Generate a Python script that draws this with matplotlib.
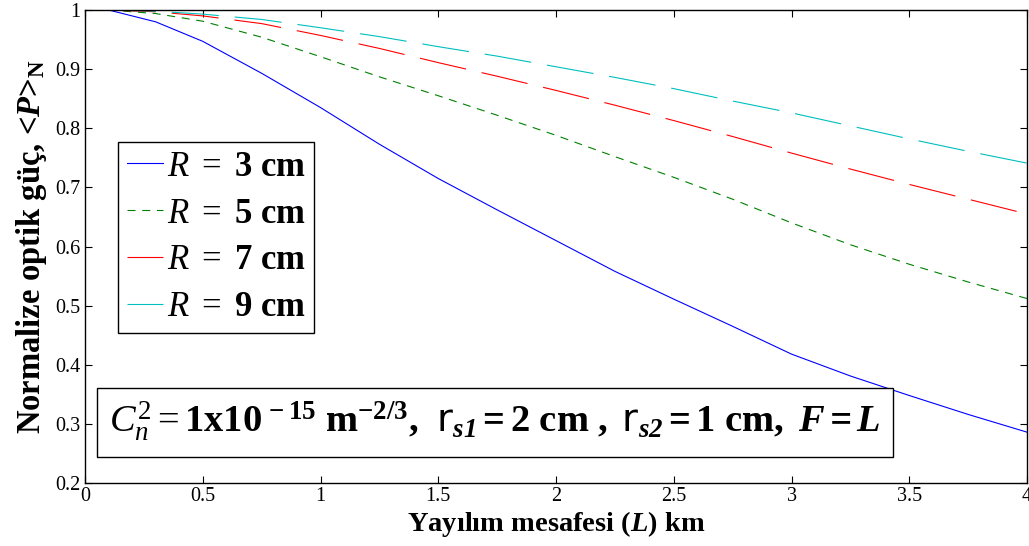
import matplotlib
matplotlib.use('Agg')
import matplotlib.pyplot as plt

# Distance (km) and normalized power for each receiver aperture
L_km = [0.1, 0.3, 0.5, 0.75, 1.0, 1.25, 1.5, 1.75, 2.0, 2.25, 2.5, 2.75, 3.0, 3.25, 3.5, 3.75, 4.0]
P_R3 = [1.000, 0.980, 0.947, 0.893, 0.835, 0.773, 0.715, 0.662, 0.610, 0.558, 0.511, 0.465, 0.418, 0.381, 0.348, 0.316, 0.286]
P_R5 = [1.000, 0.994, 0.981, 0.954, 0.921, 0.887, 0.855, 0.822, 0.788, 0.752, 0.717, 0.680, 0.640, 0.603, 0.570, 0.540, 0.512]
P_R7 = [1.000, 0.997, 0.990, 0.977, 0.957, 0.935, 0.911, 0.888, 0.864, 0.839, 0.813, 0.786, 0.758, 0.731, 0.705, 0.680, 0.655]
P_R9 = [1.000, 0.998, 0.993, 0.984, 0.970, 0.955, 0.938, 0.922, 0.904, 0.886, 0.867, 0.846, 0.826, 0.804, 0.782, 0.761, 0.741]
labels = ['3', '5', '7', '9']

plt.rcParams['font.family'] = 'Liberation Serif'
plt.rcParams['mathtext.fontset'] = 'custom'
plt.rcParams['mathtext.rm'] = 'Liberation Serif'
plt.rcParams['mathtext.it'] = 'Liberation Serif:italic'
plt.rcParams['mathtext.bf'] = 'Liberation Serif:bold'
plt.rcParams['mathtext.bfit'] = 'Liberation Serif:italic:bold'
plt.rcParams['mathtext.sf'] = 'DejaVu Sans'
plt.rcParams['lines.scale_dashes'] = False

fig = plt.figure(figsize=(10.29, 5.46), dpi=100)
ax = fig.add_axes([85 / 1029, 63 / 546, 942 / 1029, 473 / 546])

lw = 0.8
fmt = r'$R\ =\ \mathbf{%s\ cm}$'
ax.plot(L_km, P_R3, color='#0000ff', lw=lw, label=fmt % labels[0])
ax.plot(L_km, P_R5, color='#008000', lw=lw, dashes=(5.8, 4.8), label=fmt % labels[1])
ax.plot(L_km, P_R7, color='#ff0000', lw=lw, dashes=(34, 11.5), label=fmt % labels[2])
ax.plot(L_km, P_R9, color='#00bfbf', lw=lw, dashes=(34, 11.5), label=fmt % labels[3])

ax.set_xlim(0, 4)
ax.set_ylim(0.2, 1)
ax.set_xticks([0, 0.5, 1, 1.5, 2, 2.5, 3, 3.5, 4])
ax.set_xticklabels(['0', '0.5', '1', '1.5', '2', '2.5', '3', '3.5', '4'])
ax.set_yticks([0.2, 0.3, 0.4, 0.5, 0.6, 0.7, 0.8, 0.9, 1])
ax.set_yticklabels(['0.2', '0.3', '0.4', '0.5', '0.6', '0.7', '0.8', '0.9', '1'])
ax.tick_params(direction='in', top=True, right=True, length=5, width=0.8, labelsize=14.5, pad=3)
for s in ax.spines.values():
    s.set_linewidth(1.0)

ax.set_xlabel(r'Yayılım mesafesi ($\mathbfit{L}$) km', fontsize=20.5, fontweight='bold', labelpad=2)
ax.set_ylabel(r'Normalize optik güç, <$\mathbfit{P}$>$_\mathbf{N}$', fontsize=23.5, fontweight='bold', labelpad=5)

leg = ax.legend(loc='upper left', bbox_to_anchor=(0.035, 0.721), borderaxespad=0,
                fontsize=25, handlelength=1.05, handletextpad=0.1, labelspacing=0.4,
                borderpad=0.25, fancybox=False, framealpha=1, edgecolor='black')
leg.get_frame().set_linewidth(1.0)

ann = (r'$C_n^2 = \mathbf{1x10}^{\mathbf{\,-15}}\ \mathbf{m}^{\mathbf{-2/3}}\mathbf{,}\ \ '
       r'\mathsf{r}_{\mathbfit{s1}}\mathbf{=2\ cm\ ,}\ \mathsf{r}_{\mathbfit{s2}}\mathbf{=1\ cm,}\ \mathbfit{F=L}$')
ax.text(0.0255, 0.082, ann, transform=ax.transAxes, fontsize=27.7, ha='left', va='bottom',
        bbox=dict(boxstyle='square,pad=0.32', facecolor='white', edgecolor='black', linewidth=1.0))

fig.savefig('out.png', dpi=100)
